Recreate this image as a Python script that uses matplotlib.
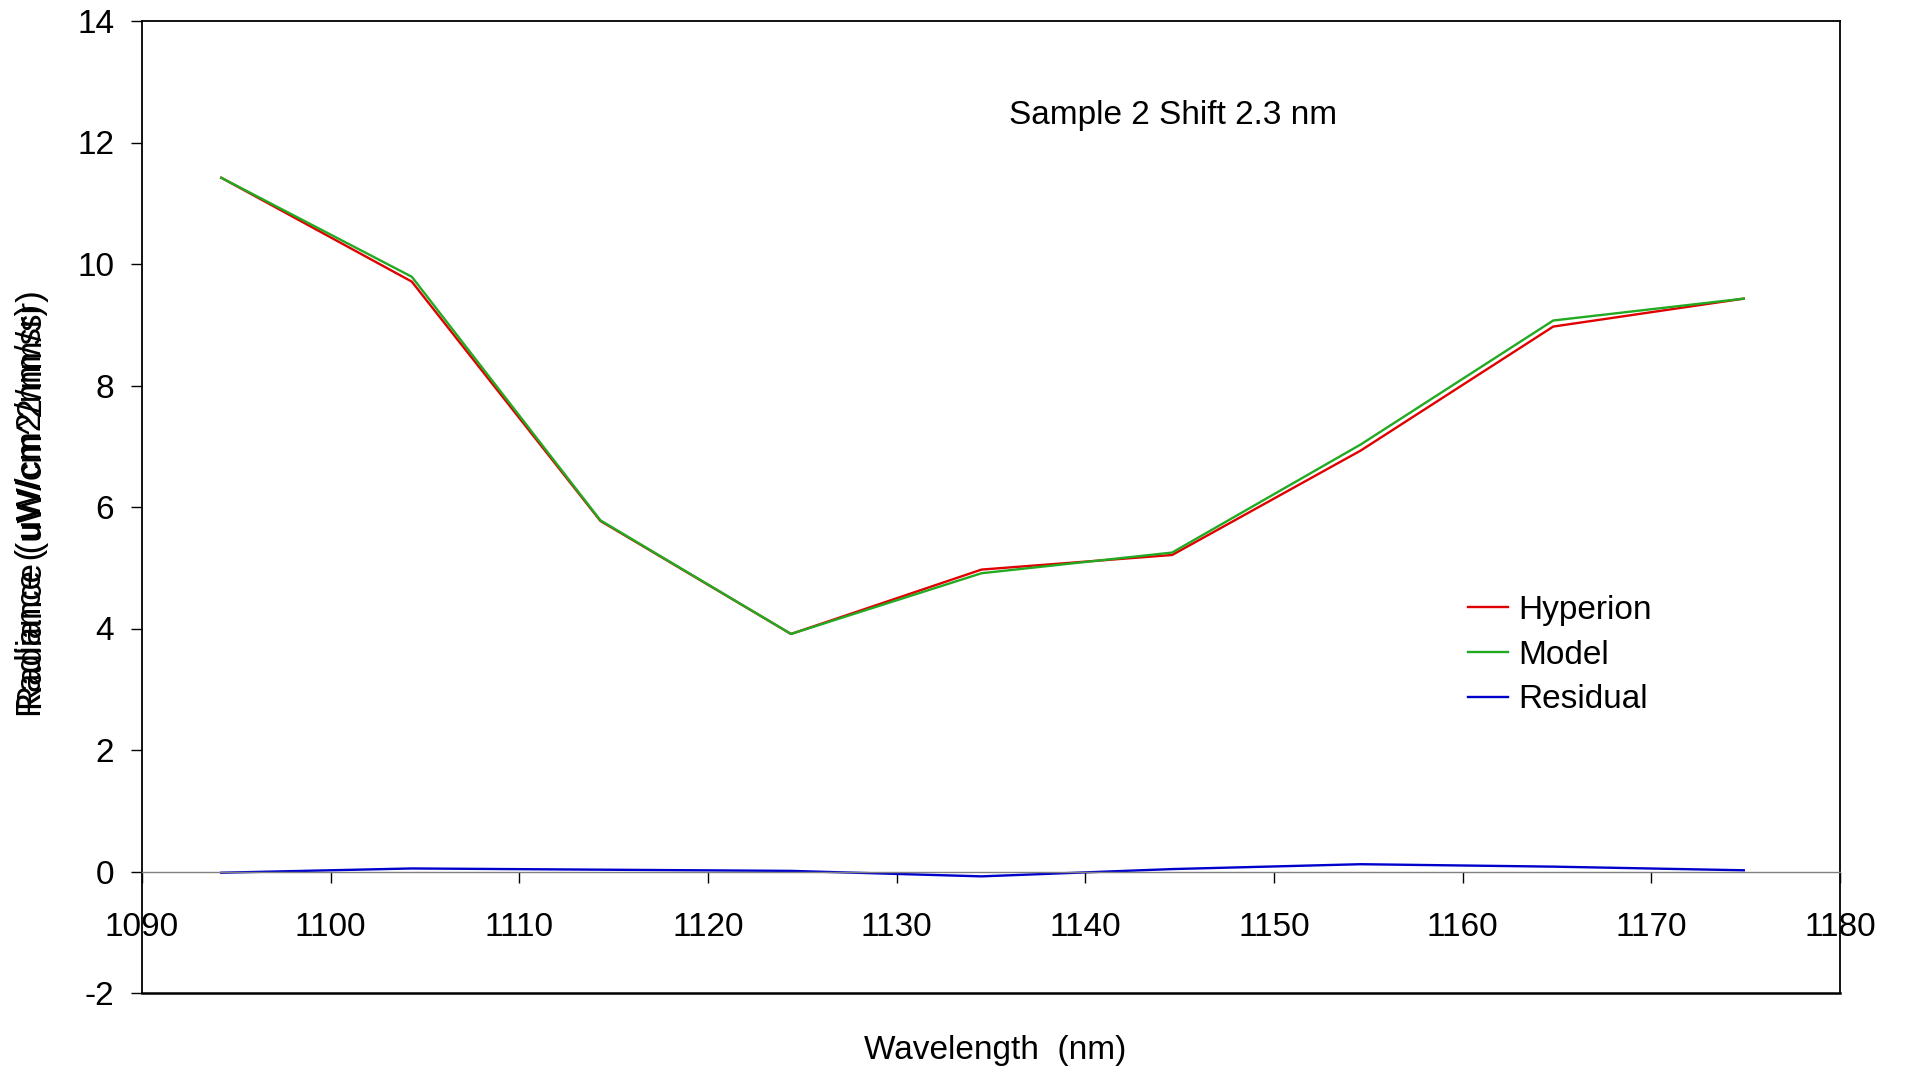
import numpy as np
import matplotlib
matplotlib.use('Agg')
import matplotlib.pyplot as plt

# ── Datos ─────────────────────────────────────────────────
wavelength = [1094.2, 1104.3, 1114.3, 1124.4, 1134.5, 1144.6, 1154.6, 1164.8, 1174.9]
hyperion   = [11.42, 9.71, 5.77, 3.91, 4.97, 5.21, 6.93, 8.97, 9.43]
model      = [11.42, 9.79, 5.78, 3.91, 4.91, 5.25, 7.03, 9.07, 9.43]
residual   = [-0.02, 0.05, 0.03, 0.01, -0.08, 0.04, 0.12, 0.08, 0.02]

x_ticks = [1090, 1100, 1110, 1120, 1130, 1140, 1150, 1160, 1170, 1180]
y_ticks = [-2, 0, 2, 4, 6, 8, 10, 12, 14]

plt.rcParams['font.family'] = ['Liberation Sans', 'DejaVu Sans']
FS = 24

fig = plt.figure(figsize=(19.08, 10.75), dpi=100)
ax = fig.add_axes([142/1908, 1 - 993/1075, (1840-142)/1908, (993-21)/1075])

ax.plot(wavelength, hyperion, color='#E00000', lw=1.7, label='Hyperion')
ax.plot(wavelength, model, color='#22AA22', lw=1.7, label='Model')
ax.plot(wavelength, residual, color='#0000CC', lw=1.7, label='Residual')

ax.set_xlim(1090, 1180)
ax.set_ylim(-2, 14)
ax.set_xticks(x_ticks)
ax.set_yticks(y_ticks)
ax.set_yticklabels([str(v) for v in y_ticks])

# eje horizontal cruzando en y=0 (estilo Excel)
ax.spines['bottom'].set_position(('data', 0))
ax.spines['bottom'].set_color('#808080')
ax.spines['bottom'].set_linewidth(1.0)
for s in ['left', 'top', 'right']:
    ax.spines[s].set_color('black')
    ax.spines[s].set_linewidth(1.3)
ax.plot([0, 1], [0, 0], transform=ax.transAxes, color='black', lw=1.8, clip_on=False)

ax.tick_params(axis='x', direction='out', length=8, width=1.0, color='black',
               labelsize=FS, pad=21)
ax.tick_params(axis='y', direction='out', length=8, width=1.0, color='black',
               labelsize=FS, pad=12)

ax.text(0.607, 0.903, 'Sample 2 Shift 2.3 nm', transform=ax.transAxes,
        ha='center', va='center', fontsize=FS)

fig.text(995/1908, 1 - 1051/1075, 'Wavelength  (nm)', ha='center', va='center', fontsize=FS)
# dos etiquetas superpuestas como en el original
fig.text(32/1908, 1 - 510/1075, 'Radiance ( uW/cm2/nm/sr)', rotation=90,
         ha='center', va='center', fontsize=FS + 1)
fig.text(33/1908, 1 - 500/1075, 'Radiance (uW/cm^2/nm/sr)', rotation=90,
         ha='center', va='center', fontsize=FS + 1)

fig.legend(loc='center left', bbox_to_anchor=(1468/1908, 1 - 655/1075),
           frameon=False, fontsize=FS, borderpad=0, borderaxespad=0,
           handlelength=1.2, handletextpad=0.3, labelspacing=0.42)

fig.savefig('out.png', dpi=100, facecolor='white')
